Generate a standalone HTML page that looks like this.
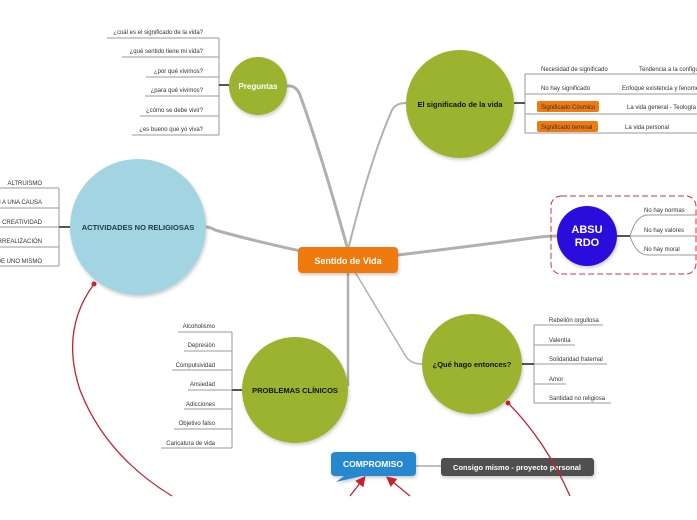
<!DOCTYPE html>
<html><head><meta charset="utf-8"><style>
html,body{margin:0;padding:0;background:#fff;width:697px;height:520px;overflow:hidden}
svg{display:block;font-family:"Liberation Sans",sans-serif}
</style></head><body>
<svg width="697" height="520" viewBox="0 0 697 520" xmlns="http://www.w3.org/2000/svg">
<defs>
<filter id="sh" x="-20%" y="-20%" width="140%" height="140%"><feDropShadow dx="1" dy="2" stdDeviation="1.5" flood-color="#000" flood-opacity="0.2"/></filter>
<marker id="ar" markerWidth="8" markerHeight="8" refX="6" refY="4" orient="auto"><path d="M0,0 L8,4 L0,8 z" fill="#c8202f"/></marker>
</defs>
<!-- main connectors -->
<g fill="none" stroke="#b0b0b0" stroke-linecap="round">
<path d="M348,250 Q320,150 300,95 Q296,85 287,86" stroke-width="3"/>
<path d="M348,250 Q370,160 392,110 Q396,103 406,103" stroke-width="2"/>
<path d="M305,252 Q250,240 215,230 Q210,227 206,227" stroke-width="3"/>
<path d="M398,255 Q480,245 540,237 Q548,236 557,236" stroke-width="3"/>
<path d="M348,270 L348,350 Q348,380 348,385" stroke-width="2.5"/>
<path d="M355,272 Q390,330 405,355 Q410,364 422,364" stroke-width="1.5"/>
</g>
<!-- Preguntas -->
<g stroke="#999" stroke-width="1" fill="none">
<path d="M219,38 V135 M219,85 H229"/>
<path d="M107,38 H219 M122,57 H219 M146,77 H219 M145,96 H219 M140,116 H219 M132,135 H219"/>
</g>
<path d="M219,85 H229" stroke="#555" stroke-width="2"/>
<g font-size="6" fill="#333" text-anchor="end">
<text x="203" y="34">¿cuál es el significado de la vida?</text>
<text x="203" y="53">¿qué sentido tiene mi vida?</text>
<text x="203" y="73">¿por qué vivimos?</text>
<text x="203" y="92">¿para qué vivimos?</text>
<text x="203" y="112">¿cómo se debe vivir?</text>
<text x="203" y="131">¿es bueno que yo viva?</text>
</g>
<circle cx="258" cy="86" r="29" fill="#9bb32e" filter="url(#sh)"/>
<text x="258" y="89" font-size="8" font-weight="bold" fill="#fff" text-anchor="middle">Preguntas</text>
<!-- Significado -->
<g stroke="#999" stroke-width="1" fill="none">
<path d="M525,74 V133 H697 M525,74 H697 M525,94 H697 M525,114 H697"/>
</g>
<path d="M514,103 H525" stroke="#555" stroke-width="2"/>
<rect x="537" y="101" width="62" height="11" rx="2" fill="#ef7a10"/>
<rect x="537" y="121" width="61" height="11" rx="2" fill="#ef7a10"/>
<g font-size="6" fill="#333">
<text x="541" y="71">Necesidad de significado</text>
<text x="639" y="71">Tendencia a la configuración</text>
<text x="541" y="90">No hay significado</text>
<text x="622" y="90">Enfoque existencia y fenomenología</text>
<text x="541" y="109">Significado Cósmico</text>
<text x="627" y="109">La vida general - Teología</text>
<text x="541" y="129">Significado terrenal</text>
<text x="625" y="129">La vida personal</text>
</g>
<circle cx="460" cy="104" r="54" fill="#9bb32e" filter="url(#sh)"/>
<text x="460" y="107" font-size="7.5" font-weight="bold" fill="#111" text-anchor="middle">El significado de la vida</text>
<!-- Activities -->
<g stroke="#999" stroke-width="1" fill="none">
<path d="M59,188 V266 M0,188 H59 M0,208 H59 M0,227 H59 M0,247 H59 M0,266 H59"/>
</g>
<path d="M59,227 H70" stroke="#555" stroke-width="2"/>
<g font-size="6" fill="#333" text-anchor="end">
<text x="42" y="185">ALTRUISMO</text>
<text x="42" y="204">N A UNA CAUSA</text>
<text x="42" y="224">CREATIVIDAD</text>
<text x="42" y="243">RREALIZACIÓN</text>
<text x="42" y="263">DE UNO MISMO</text>
</g>
<circle cx="138" cy="227" r="68" fill="#a2d4e2" filter="url(#sh)"/>
<text x="138" y="230" font-size="7.5" font-weight="bold" fill="#1d3a4a" text-anchor="middle">ACTIVIDADES NO RELIGIOSAS</text>
<!-- ABSURDO -->
<rect x="551" y="196" width="145" height="78" rx="10" fill="none" stroke="#d0303f" stroke-width="1" stroke-dasharray="6,3"/>
<g stroke="#999" stroke-width="1" fill="none">
<path d="M617,236 H630 Q636,215 648,215 H697"/>
<path d="M617,236 H697"/>
<path d="M617,236 H630 Q636,255 648,255 H697"/>
</g>
<path d="M617,236 H630" stroke="#555" stroke-width="2"/>
<g font-size="6" fill="#333">
<text x="644" y="212">No hay normas</text>
<text x="644" y="232">No hay valores</text>
<text x="644" y="251">No hay moral</text>
</g>
<circle cx="587" cy="236" r="30" fill="#2c10dc" filter="url(#sh)"/>
<text x="587" y="233" font-size="11" font-weight="bold" fill="#fff" text-anchor="middle">ABSU</text>
<text x="587" y="246" font-size="11" font-weight="bold" fill="#fff" text-anchor="middle">RDO</text>
<!-- Problemas -->
<g stroke="#999" stroke-width="1" fill="none">
<path d="M232,332 V448 M178,332 H232 M184,351 H232 M172,370 H232 M188,390 H232 M184,409 H232 M174,429 H232 M161,448 H232"/>
</g>
<path d="M232,390 H243" stroke="#555" stroke-width="2"/>
<g font-size="6" fill="#333" text-anchor="end">
<text x="215" y="328">Alcoholismo</text>
<text x="215" y="347">Depresión</text>
<text x="215" y="367">Compulsividad</text>
<text x="215" y="386">Ansiedad</text>
<text x="215" y="406">Adicciones</text>
<text x="215" y="425">Objetivo falso</text>
<text x="215" y="445">Caricatura de vida</text>
</g>
<circle cx="295" cy="390" r="53" fill="#9bb32e" filter="url(#sh)"/>
<text x="295" y="393" font-size="7.5" font-weight="bold" fill="#111" text-anchor="middle">PROBLEMAS CLÍNICOS</text>
<!-- Qué hago -->
<g stroke="#999" stroke-width="1" fill="none">
<path d="M534,325 V403 M534,325 H603 M534,345 H575 M534,364 H607 M534,384 H566 M534,403 H611"/>
</g>
<path d="M522,364 H534" stroke="#555" stroke-width="2"/>
<g font-size="6" fill="#333">
<text x="549" y="322">Rebelión orgullosa</text>
<text x="549" y="342">Valentía</text>
<text x="549" y="361">Solidaridad fraternal</text>
<text x="549" y="381">Amor</text>
<text x="549" y="400">Santidad no religiosa</text>
</g>
<circle cx="472" cy="364" r="50" fill="#9bb32e" filter="url(#sh)"/>
<text x="472" y="367" font-size="7.5" font-weight="bold" fill="#111" text-anchor="middle">¿Qué hago entonces?</text>
<!-- Center -->
<rect x="298" y="247" width="100" height="26" rx="4" fill="#ef7a10" filter="url(#sh)"/>
<text x="348" y="264" font-size="9" font-weight="bold" fill="#fff" text-anchor="middle">Sentido de Vida</text>
<!-- Compromiso -->
<path d="M416,466 H441" stroke="#aaa" stroke-width="1.5"/>
<path d="M336,452 H412 Q416,452 416,456 V472 Q416,476 412,476 H362 L336,482 L344,476 H335 Q331,476 331,472 V456 Q331,452 336,452 Z" fill="#2589d0" filter="url(#sh)"/>
<text x="373" y="467" font-size="8.5" font-weight="bold" fill="#fff" text-anchor="middle">COMPROMISO</text>
<rect x="441" y="458" width="153" height="18" rx="3" fill="#505050" filter="url(#sh)"/>
<text x="517" y="470" font-size="7.5" font-weight="bold" fill="#fff" text-anchor="middle">Consigo mismo - proyecto personal</text>
<!-- red relations -->
<g fill="none" stroke="#c8202f" stroke-width="1.3">
<path d="M94,284 Q60,330 80,390 Q105,455 172,496"/>
<path d="M350,496 L364,478" marker-end="url(#ar)"/>
<path d="M410,496 L388,478" marker-end="url(#ar)"/>
<path d="M508,403 Q545,440 570,496"/>
</g>
<circle cx="94" cy="284" r="2.5" fill="#c8202f"/>
<circle cx="508" cy="403" r="2.5" fill="#c8202f"/>
</svg>
</body></html>
